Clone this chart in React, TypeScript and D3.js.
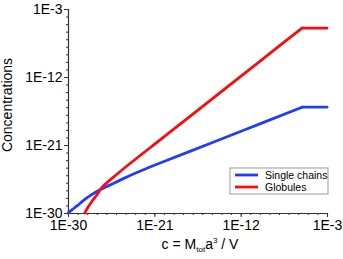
import React, { useRef, useEffect } from 'react';
import * as d3 from 'd3';

// log10 of concentration c (x) and log10 of species concentration (y)
// the last point of each series is the end of the plateau
const singleLogC = [-30, -29.5, -29, -28.5, -28, -27.5, -27, -26.5, -26, -25, -24, -23, -22, -21, -20, -15, -10, -5.6, -3];
const singleLogY = [-30, -29.5, -29, -28.47, -27.97, -27.55, -27.15, -26.82, -26.53, -25.92, -25.32, -24.75, -24.2, -23.68, -23.18, -20.7, -18.2, -16.0, -16.0];
const globLogC = [-28.26, -28, -27.5, -27, -26.5, -26, -25, -20, -15, -10, -5.6, -3];
const globLogY = [-30, -29.4, -28.45, -27.62, -26.68, -26.05, -24.97, -19.93, -14.92, -9.92, -5.52, -5.52];

const majorTicks = [1e-30, 1e-21, 1e-12, 1e-3];
const tickLabels = ['1E-30', '1E-21', '1E-12', '1E-3'];
const seriesNames = ['Single chains', 'Globules'];
const seriesColors = ['#1f3cff', '#ff0a0a'];

const W = 343;
const H = 259;
const FONT = 'Liberation Sans, Arial, sans-serif';

const App = () => {
  const ref = useRef<SVGSVGElement>(null);

  useEffect(() => {
    if (!ref.current) return;
    const svg = d3.select(ref.current);
    svg.selectAll('*').remove();

    const x = d3.scaleLog().domain([1e-30, 1e-3]).range([68, 327]);
    const y = d3.scaleLog().domain([1e-30, 1e-3]).range([213, 9]);

    // minor ticks every decade
    const minor: number[] = [];
    for (let e = -30; e <= -3; e++) minor.push(Math.pow(10, e));

    const axisColor = '#333';

    // Y axis
    const gy = svg.append('g').attr('transform', `translate(${x.range()[0]},0)`);
    gy.call(d3.axisLeft(y).tickValues(minor).tickSize(2).tickFormat(() => ''));
    gy.append('g').call(d3.axisLeft(y).tickValues(majorTicks).tickSize(4)
      .tickFormat((d, i) => tickLabels[i]));
    gy.selectAll('.domain').filter((d, i) => i > 0).remove();
    gy.selectAll('.domain').attr('stroke', axisColor).attr('stroke-width', 1.2);
    gy.selectAll('.tick line').attr('stroke', axisColor);
    gy.selectAll('.tick text')
      .attr('font-family', FONT).attr('font-size', 14).attr('fill', '#000')
      .attr('x', -5.5);

    // X axis
    const gx = svg.append('g').attr('transform', `translate(0,${y.range()[0]})`);
    gx.call(d3.axisBottom(x).tickValues(minor).tickSize(2).tickFormat(() => ''));
    gx.append('g').call(d3.axisBottom(x).tickValues(majorTicks).tickSize(4)
      .tickFormat((d, i) => tickLabels[i]));
    gx.selectAll('.domain').filter((d, i) => i > 0).remove();
    gx.selectAll('.domain').attr('stroke', axisColor).attr('stroke-width', 1.2);
    gx.selectAll('.tick line').attr('stroke', axisColor);
    gx.selectAll('.tick text')
      .attr('font-family', FONT).attr('font-size', 14).attr('fill', '#000')
      .attr('y', 7);

    // Lines: smooth rise up to the kink, straight plateau after it
    const smooth = d3.line<[number, number]>()
      .x(d => x(Math.pow(10, d[0])))
      .y(d => y(Math.pow(10, d[1])))
      .curve(d3.curveMonotoneX);
    const straight = d3.line<[number, number]>()
      .x(d => x(Math.pow(10, d[0])))
      .y(d => y(Math.pow(10, d[1])));

    const series = [
      d3.zip(singleLogC, singleLogY) as [number, number][],
      d3.zip(globLogC, globLogY) as [number, number][],
    ];

    series.forEach((s, i) => {
      const k = s.length - 1;
      const g = svg.append('g')
        .attr('fill', 'none')
        .attr('stroke', seriesColors[i])
        .attr('stroke-width', 2.8)
        .attr('stroke-linecap', 'round');
      g.append('path').attr('d', smooth(s.slice(0, k)));
      g.append('path').attr('d', straight(s.slice(k - 1)));
    });

    // Axis titles
    svg.append('text')
      .attr('transform', `translate(12,105) rotate(-90)`)
      .attr('text-anchor', 'middle')
      .attr('font-family', FONT)
      .attr('font-size', 14)
      .text('Concentrations');

    const xt = svg.append('text')
      .attr('x', 200)
      .attr('y', 249)
      .attr('text-anchor', 'middle')
      .attr('font-family', FONT)
      .attr('font-size', 14);
    xt.append('tspan').text('c = M');
    xt.append('tspan').attr('font-size', 8).attr('dy', 3).text('tot');
    xt.append('tspan').attr('dy', -3).text('a');
    xt.append('tspan').attr('font-size', 8).attr('dy', -6).text('3');
    xt.append('tspan').attr('dy', 6).text(' / V');

    // Legend
    const lg = svg.append('g').attr('transform', 'translate(230,168)');
    lg.append('rect')
      .attr('width', 98).attr('height', 26)
      .attr('fill', '#fff').attr('stroke', '#999').attr('stroke-width', 1);
    seriesNames.forEach((n, i) => {
      const yy = 7 + i * 12;
      lg.append('line')
        .attr('x1', 5).attr('x2', 28).attr('y1', yy).attr('y2', yy)
        .attr('stroke', seriesColors[i]).attr('stroke-width', 2.8);
      lg.append('text')
        .attr('x', 35).attr('y', yy + 4)
        .attr('font-family', FONT).attr('font-size', 10.5)
        .text(n);
    });
  }, []);

  return (
    <svg ref={ref} width={W} height={H}
      style={{ position: 'absolute', left: 0, top: 0, background: '#fff' }} />
  );
};

export default App;
